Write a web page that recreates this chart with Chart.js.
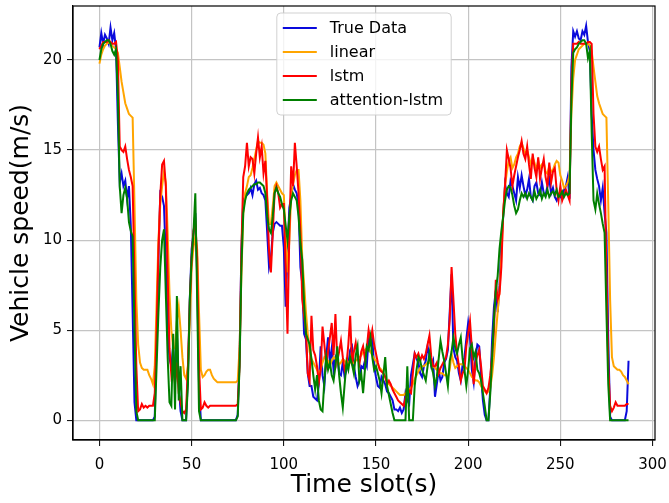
<!DOCTYPE html>
<html>
<head>
<meta charset="utf-8">
<title>Vehicle speed prediction</title>
<script src="https://cdn.jsdelivr.net/npm/chart.js@4.4.1/dist/chart.umd.min.js"></script>
<style>
  html, body { margin: 0; padding: 0; background: #fff; }
  #wrap { width: 669px; height: 503px; }
</style>
</head>
<body>
<div id="wrap"><canvas id="speedChart" width="669" height="503"></canvas></div>
<script>
// values, one per time slot (0..287)
const trueData = [
  20.7, 21.5, 20.9, 21.4, 21.2, 20.9, 21.8, 21.1, 21.5, 20.6,
  16.5, 13.2, 13.7, 13.0, 13.3, 12.3, 13.0, 10.8, 6.0, 1.0,
  0, 0, 0, 0, 0, 0, 0, 0, 0, 0,
  0.2, 4.5, 9.0, 12.6, 12.4, 11.9, 9.0, 5.0, 3.4, 3.0,
  4.1, 2.1, 4.8, 2.0, 0.5, 0, 0, 0, 2.5, 6.7,
  9.5, 10.4, 11.5, 8.0, 2.0, 0, 0, 0, 0, 0,
  0, 0, 0, 0, 0, 0, 0, 0, 0, 0,
  0, 0, 0, 0, 0, 0.3, 3.5, 9.5, 12.2, 12.4,
  12.5, 12.6, 12.9, 12.5, 13.1, 13.3, 12.8, 12.9, 12.6, 12.5,
  12.2, 10.4, 8.5, 9.0, 10.4, 10.9, 11.0, 10.9, 10.8, 10.8,
  9.6, 6.3, 9.4, 11.8, 12.4, 13.1, 12.8, 12.6, 11.9, 8.5,
  7.6, 4.8, 4.5, 2.6, 1.9, 1.9, 1.3, 1.2, 1.1, 2.0,
  4.1, 2.5, 1.9, 3.5, 4.6, 3.2, 4.0, 2.8, 3.5, 3.7,
  2.6, 2.5, 3.2, 2.4, 2.8, 3.1, 3.9, 4.1, 3.0, 2.4,
  1.9, 2.2, 3.0, 2.9, 3.3, 3.0, 4.6, 4.3, 4.5, 3.0,
  2.4, 1.9, 1.8, 2.4, 2.2, 2.0, 1.6, 1.5, 1.3, 1.1,
  0.6, 0.6, 0.5, 0.7, 0.4, 0.6, 1.5, 1.1, 0.9, 2.5,
  3.1, 3.7, 3.4, 3.2, 2.6, 2.4, 3.0, 3.3, 4.1, 3.6,
  3.0, 3.3, 1.3, 2.0, 2.8, 2.2, 2.4, 3.2, 3.4, 3.9,
  6.0, 8.1, 4.0, 3.5, 3.3, 2.6, 2.2, 3.1, 3.5, 4.5,
  5.4, 4.6, 2.8, 2.1, 3.5, 4.2, 4.1, 2.5, 1.1, 0.3,
  0, 0, 1.8, 4.5, 6.3, 7.2, 6.0, 7.5, 9.8, 11.3,
  13.1, 12.6, 12.4, 13.3, 13.0, 12.6, 12.2, 13.5, 12.9, 13.6,
  13.0, 12.5, 12.8, 13.4, 12.4, 12.2, 13.0, 13.2, 12.6, 12.5,
  13.2, 12.6, 12.5, 13.0, 13.4, 12.6, 12.9, 12.4, 12.2, 12.5,
  12.4, 12.3, 12.8, 13.0, 13.5, 12.3, 19.6, 21.6, 21.3, 21.6,
  21.2, 21.1, 21.6, 21.4, 21.9, 21.0, 20.5, 17.0, 15.0, 13.9,
  13.4, 13.0, 12.2, 12.9, 11.5, 10.4, 4.5, 0.2, 0, 0,
  0, 0, 0, 0, 0, 0, 0.5, 3.3
];

const linearPred = [
  19.8, 20.3, 20.6, 20.8, 20.9, 21.0, 20.9, 20.8, 20.7, 20.6,
  20.4, 19.6, 18.8, 18.2, 17.6, 17.3, 17.0, 16.9, 16.8, 12.0,
  6.7, 4.2, 3.2, 2.9, 2.8, 2.8, 2.8, 2.5, 2.3, 2.0,
  3.0, 6.5, 10.0, 12.0, 13.0, 13.8, 13.2, 10.4, 7.0, 5.0,
  4.0, 4.0, 5.5, 6.3, 5.0, 3.5, 2.5, 2.3, 3.0, 5.5,
  8.5, 9.6, 10.2, 9.5, 6.0, 2.8, 2.4, 2.5, 2.7, 2.8,
  2.8, 2.5, 2.3, 2.2, 2.1, 2.1, 2.1, 2.1, 2.1, 2.1,
  2.1, 2.1, 2.1, 2.1, 2.1, 2.2, 4.0, 8.0, 11.5, 12.6,
  13.0, 13.5, 13.6, 14.0, 14.5, 15.0, 15.5, 15.4, 15.4, 15.3,
  14.8, 12.5, 10.9, 10.9, 11.9, 13.0, 13.2, 13.0, 12.8, 12.6,
  12.5, 10.4, 8.2, 10.0, 12.5, 13.1, 13.6, 13.9, 13.9, 12.2,
  9.0, 7.6, 6.0, 4.8, 3.8, 3.4, 3.2, 3.0, 2.8, 2.6,
  2.8, 3.2, 3.5, 3.4, 3.3, 3.0, 3.3, 3.5, 3.4, 3.3,
  3.1, 3.2, 3.4, 3.3, 3.1, 3.2, 3.3, 3.1, 3.2, 3.3,
  3.4, 3.5, 3.6, 3.8, 3.9, 4.0, 4.0, 3.8, 3.6, 3.4,
  3.3, 3.1, 2.9, 2.8, 2.6, 2.4, 2.2, 2.0, 1.9, 1.8,
  1.7, 1.6, 1.5, 1.4, 1.4, 1.4, 1.5, 1.6, 1.7, 1.8,
  2.0, 2.3, 2.5, 2.7, 2.9, 3.0, 3.0, 3.1, 3.2, 3.2,
  3.1, 3.0, 2.9, 2.8, 2.7, 2.6, 2.6, 2.5, 2.5, 2.4,
  2.8, 3.7, 3.2, 2.9, 3.0, 3.1, 3.1, 3.1, 3.0, 2.9,
  2.8, 2.6, 2.4, 2.3, 2.2, 2.2, 2.1, 1.9, 1.7, 1.6,
  1.5, 1.6, 1.8, 2.5, 3.5, 4.8, 6.0, 7.2, 9.0, 11.5,
  13.0, 13.8, 14.4, 14.6, 14.0, 14.2, 14.6, 14.8, 15.2, 15.4,
  15.1, 14.8, 15.0, 14.6, 14.2, 14.6, 14.3, 13.9, 14.4, 14.0,
  14.2, 14.3, 13.8, 13.7, 14.1, 13.8, 13.9, 14.2, 14.4, 14.3,
  13.6, 13.3, 12.9, 13.0, 13.2, 13.6, 17.0, 19.0, 20.0, 20.3,
  20.6, 20.7, 20.8, 20.9, 20.9, 20.9, 20.8, 20.5, 19.6, 18.8,
  18.0, 17.6, 17.3, 17.0, 16.9, 16.8, 12.0, 6.7, 3.5, 3.0,
  2.9, 2.8, 2.8, 2.7, 2.5, 2.4, 2.2, 2.0
];

const lstmPred = [
  20.6, 20.8, 21.0, 21.0, 21.0, 21.1, 21.0, 20.9, 20.9, 21.0,
  20.0, 15.2, 15.0, 14.9, 15.2, 14.5, 13.9, 13.5, 13.0, 8.0,
  3.0, 0.5, 0.6, 0.9, 0.7, 0.8, 0.7, 0.8, 0.8, 0.8,
  1.5, 5.0, 9.5, 12.5, 14.2, 14.4, 13.0, 8.0, 4.0, 2.5,
  3.0, 2.0, 3.2, 1.5, 1.0, 0.5, 0.4, 0.6, 3.0, 6.5,
  9.0, 10.5, 11.0, 9.0, 3.0, 0.6, 0.7, 1.0, 0.8, 0.7,
  0.8, 0.8, 0.8, 0.8, 0.8, 0.8, 0.8, 0.8, 0.8, 0.8,
  0.8, 0.8, 0.8, 0.8, 0.8, 0.9, 3.0, 9.4, 13.5, 14.1,
  15.4, 14.1, 14.6, 14.5, 13.7, 14.8, 15.7, 14.6, 15.2, 13.7,
  14.4, 12.2, 9.4, 8.2, 10.4, 12.6, 13.0, 12.6, 11.8, 12.0,
  12.0, 8.5, 4.8, 10.4, 14.1, 13.0, 15.4, 14.1, 12.6, 10.4,
  6.7, 5.8, 5.0, 2.6, 2.2, 5.8, 3.9, 3.6, 3.0, 2.1,
  2.8, 5.2, 4.2, 3.1, 3.8, 4.6, 5.4, 3.6, 5.9, 3.3,
  3.8, 4.4, 3.5, 2.8, 3.1, 4.2, 5.8, 3.1, 3.8, 4.3,
  3.5, 3.1, 3.8, 4.1, 3.4, 4.0, 5.0, 4.4, 5.0, 4.2,
  3.7, 3.2, 2.8, 2.7, 2.6, 2.4, 2.0, 2.2, 2.0, 1.7,
  1.5, 1.3, 1.1, 1.0, 0.9, 0.8, 1.2, 1.9, 1.6, 1.5,
  2.6, 3.7, 3.5, 3.7, 3.3, 3.6, 3.4, 3.7, 4.2, 4.7,
  3.5, 3.0, 3.0, 3.2, 2.6, 2.9, 3.1, 3.3, 3.5, 4.2,
  5.6, 8.5, 6.7, 4.8, 3.7, 3.0, 2.2, 2.6, 2.8, 4.1,
  4.8, 5.5, 4.0, 2.0, 3.2, 3.6, 3.9, 3.0, 1.9, 1.7,
  1.5, 1.8, 2.5, 3.6, 5.0, 7.8, 6.7, 7.0, 8.5, 11.5,
  13.0, 15.0, 14.5, 14.0, 13.0, 13.6, 14.1, 14.6, 15.0, 15.5,
  14.8, 14.5, 15.2, 14.2, 13.4, 14.8, 14.0, 13.5, 14.6, 13.4,
  14.0, 14.5, 13.5, 13.0, 14.3, 13.2, 13.8, 14.0, 12.8, 12.2,
  13.0, 12.2, 12.5, 12.8, 12.5, 12.2, 18.7, 20.9, 20.9, 20.9,
  21.0, 20.9, 20.9, 20.9, 20.9, 21.0, 21.0, 20.9, 17.0, 15.2,
  14.9, 15.2, 14.5, 13.9, 14.1, 8.0, 3.0, 0.8, 0.5, 0.7,
  1.0, 0.8, 0.8, 0.8, 0.8, 0.8, 0.9, 0.9
];

const attentionPred = [
  20.0, 20.6, 20.9, 21.0, 21.1, 21.1, 20.9, 20.5, 20.3, 20.6,
  18.0, 13.0, 11.5, 12.5, 12.9, 12.3, 11.0, 10.5, 10.2, 5.0,
  0.5, 0, 0, 0, 0, 0, 0, 0, 0, 0,
  0, 3.0, 6.0, 8.5, 10.0, 10.6, 7.0, 3.5, 1.0, 0.8,
  4.8, 0.6, 6.9, 1.1, 3.0, 0, 0, 0, 2.0, 6.7,
  9.0, 10.4, 12.6, 6.7, 0.5, 0, 0, 0, 0, 0,
  0, 0, 0, 0, 0, 0, 0, 0, 0, 0,
  0, 0, 0, 0, 0, 0.2, 3.0, 8.5, 11.5, 12.2,
  12.6, 12.8, 12.9, 13.0, 13.1, 13.1, 13.2, 13.2, 13.1, 13.0,
  12.6, 11.3, 10.6, 10.4, 11.3, 12.6, 12.9, 12.6, 12.4, 12.0,
  11.7, 10.8, 10.0, 11.3, 12.2, 12.6, 12.4, 12.2, 11.3, 9.8,
  8.9, 6.5, 4.8, 4.5, 4.2, 3.4, 2.5, 1.7, 2.5, 1.1,
  0.6, 0.5, 2.2, 3.5, 2.8, 3.2, 2.5, 2.2, 3.0, 4.1,
  2.5, 1.5, 0.7, 2.0, 3.2, 2.8, 3.5, 3.1, 2.6, 3.6,
  4.1, 2.2, 2.6, 1.5, 2.8, 4.1, 3.9, 4.6, 3.5, 2.8,
  3.0, 2.6, 2.2, 1.5, 2.5, 3.5, 1.9, 1.4, 0.9, 0.4,
  0, 0, 0, 0, 0, 0, 0, 3.0, 0, 0,
  0, 1.9, 2.8, 3.5, 3.3, 2.8, 2.5, 2.2, 3.0, 3.7,
  3.0, 2.6, 1.9, 2.4, 3.4, 4.4, 3.8, 3.3, 2.6, 1.9,
  3.3, 3.8, 4.6, 4.0, 3.7, 4.2, 4.6, 3.4, 2.8, 1.9,
  2.8, 4.0, 4.2, 3.5, 3.8, 2.8, 2.6, 2.2, 1.5, 0.8,
  0, 0, 1.5, 3.5, 5.6, 7.2, 8.0, 9.5, 10.5, 11.3,
  12.2, 12.8, 13.0, 12.9, 12.5, 11.9, 11.5, 11.7, 12.2, 12.6,
  12.4, 12.6, 12.3, 12.6, 12.4, 12.2, 12.7, 12.3, 12.5, 12.8,
  12.3, 12.6, 12.4, 12.8, 12.4, 12.6, 12.7, 12.5, 12.8, 12.4,
  12.5, 12.7, 12.4, 12.6, 12.5, 12.6, 17.8, 20.4, 20.6, 20.7,
  20.9, 21.0, 21.1, 21.1, 20.9, 20.1, 20.5, 16.0, 12.2, 11.7,
  12.6, 12.0, 11.5, 10.9, 10.4, 6.0, 2.0, 0, 0, 0,
  0, 0, 0, 0, 0, 0, 0, 0
];

const seriesNames = ['True Data', 'linear', 'lstm', 'attention-lstm'];
const seriesColors = ['#0a0adc', '#ffa500', '#ff0000', '#007f00'];
const xTicks = [0, 50, 100, 150, 200, 250, 300];
const yTicks = [0, 5, 10, 15, 20];

const FONT = "'DejaVu Sans', 'Liberation Sans', sans-serif";
Chart.defaults.font.family = FONT;
Chart.defaults.color = '#000';

// time slot index for every value
const timeSlots = trueData.map((_, i) => i);

const allSeries = [trueData, linearPred, lstmPred, attentionPred];
const datasets = allSeries.map((values, i) => ({
  label: seriesNames[i],
  data: values.map((v, k) => ({ x: timeSlots[k], y: v })),
  borderColor: seriesColors[i],
  backgroundColor: seriesColors[i],
  borderWidth: 2,
  pointRadius: 0,
  tension: 0,
  fill: false,
  order: allSeries.length - 1 - i   // last series ends up on top
}));

// black frame round the plot + matplotlib-like legend box
const frameAndLegend = {
  id: 'frameAndLegend',
  afterDatasetsDraw(chart) {
    const { ctx, chartArea: a } = chart;
    ctx.save();
    ctx.strokeStyle = '#000';
    ctx.lineWidth = 1.2;
    ctx.strokeRect(a.left, a.top, a.right - a.left, a.bottom - a.top);

    ctx.font = '16px ' + FONT;
    const labels = chart.data.datasets.map(d => d.label);
    const textW = Math.max(...labels.map(l => ctx.measureText(l).width));
    const w = 53 + textW + 8;
    const rowH = 24;
    const h = rowH * labels.length + 6;
    const x = (a.left + a.right) / 2 - w / 2;
    const y = a.top + 7;

    ctx.beginPath();
    ctx.roundRect(x, y, w, h, 4);
    ctx.fillStyle = 'rgba(255,255,255,0.8)';
    ctx.fill();
    ctx.strokeStyle = 'rgba(204,204,204,0.9)';
    ctx.lineWidth = 1;
    ctx.stroke();

    ctx.textBaseline = 'middle';
    ctx.textAlign = 'left';
    chart.data.datasets.forEach((d, i) => {
      const cy = y + 15 + i * rowH;
      ctx.beginPath();
      ctx.moveTo(x + 6, cy);
      ctx.lineTo(x + 40, cy);
      ctx.strokeStyle = d.borderColor;
      ctx.lineWidth = 2;
      ctx.stroke();
      ctx.fillStyle = '#000';
      ctx.fillText(d.label, x + 53, cy + 1);
    });
    ctx.restore();
  }
};

const gridColor = '#c4c4c4';

new Chart(document.getElementById('speedChart'), {
  type: 'line',
  data: { datasets },
  options: {
    responsive: false,
    devicePixelRatio: 1,
    animation: false,
    layout: { padding: { top: 6, right: 14, left: 0, bottom: 0 } },
    plugins: {
      legend: { display: false },
      tooltip: { enabled: false }
    },
    scales: {
      x: {
        type: 'linear',
        min: -14.35,
        max: 301.35,
        afterBuildTicks: (scale) => { scale.ticks = xTicks.map(v => ({ value: v })); },
        afterFit: (scale) => {
          scale.height = 63;
          scale.paddingLeft = 0;
          scale.paddingRight = 0;
        },
        ticks: {
          font: { size: 15 },
          color: '#000',
          padding: 10,
          maxRotation: 0,
          autoSkip: false,
          callback: (v) => v
        },
        grid: {
          color: gridColor,
          lineWidth: 1.2,
          drawTicks: true,
          tickLength: 6,
          tickColor: '#000',
          tickWidth: 1
        },
        border: { display: true, color: '#000', width: 1.2 },
        title: {
          display: true,
          text: 'Time slot(s)',
          font: { size: 25 },
          color: '#000',
          padding: { top: 0, bottom: 3 }
        }
      },
      y: {
        type: 'linear',
        min: -1.1,
        max: 23.0,
        afterBuildTicks: (scale) => { scale.ticks = yTicks.map(v => ({ value: v })); },
        afterFit: (scale) => {
          scale.width = 73;
          scale.paddingTop = 0;
          scale.paddingBottom = 0;
        },
        ticks: {
          font: { size: 15 },
          color: '#000',
          padding: 5,
          autoSkip: false,
          callback: (v) => v
        },
        grid: {
          color: gridColor,
          lineWidth: 1.2,
          drawTicks: true,
          tickLength: 6,
          tickColor: '#000',
          tickWidth: 1
        },
        border: { display: true, color: '#000', width: 1.2 },
        title: {
          display: true,
          text: 'Vehicle speed(m/s)',
          font: { size: 25 },
          color: '#000',
          padding: { top: 6, bottom: 0 }
        }
      }
    }
  },
  plugins: [frameAndLegend]
});
</script>
</body>
</html>
